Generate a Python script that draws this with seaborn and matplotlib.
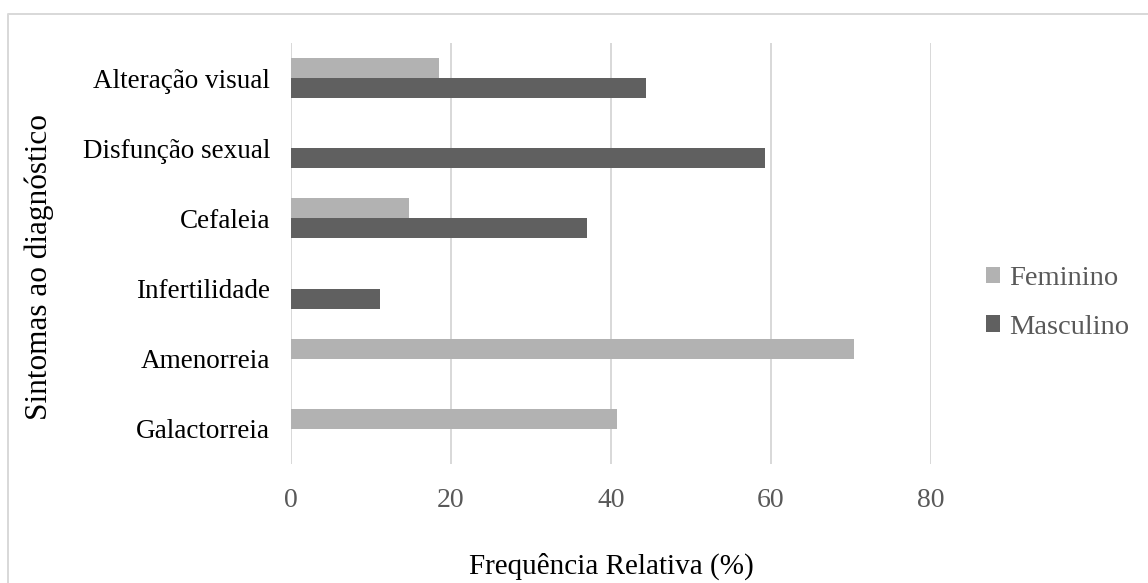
import matplotlib
matplotlib.use("Agg")
import matplotlib.pyplot as plt
from matplotlib.patches import Patch
from matplotlib.lines import Line2D
import seaborn as sns
import pandas as pd

# Symptom frequencies at diagnosis, by sex (%)
sintomas = ["Alteração visual", "Disfunção sexual", "Cefaleia",
            "Infertilidade", "Amenorreia", "Galactorreia"]
feminino = [18.5, 0.0, 14.8, 0.0, 70.4, 40.7]
masculino = [44.4, 59.3, 37.0, 11.1, 0.0, 0.0]
sexos = ["Feminino", "Masculino"]
cores = ["#B2B2B2", "#606060"]
ticks_x = [0, 20, 40, 60, 80]

df = pd.DataFrame({
    "Sintoma": sintomas * 2,
    "Sexo": [sexos[0]] * len(sintomas) + [sexos[1]] * len(sintomas),
    "Valor": feminino + masculino,
})

sns.set_theme(style="white")
plt.rcParams["font.family"] = ["Liberation Serif", "DejaVu Serif"]

W, H = 1148, 583
fig = plt.figure(figsize=(W / 100, H / 100), dpi=100)
ax = fig.add_axes([291 / W, 1 - 464 / H, 640 / W, 421 / H])

sns.barplot(data=df, x="Valor", y="Sintoma", hue="Sexo", order=sintomas,
            hue_order=sexos, palette=cores, orient="h", width=0.57,
            dodge=True, linewidth=0, saturation=1, legend=False, ax=ax)

ax.set_xlim(0, 80)
ax.set_ylim(len(sintomas) - 0.5, -0.5)
ax.set_xticks(ticks_x)
ax.set_xticklabels([str(t) for t in ticks_x])
for s in ax.spines.values():
    s.set_visible(False)
ax.set_axisbelow(True)
ax.grid(False)
for t in ticks_x:
    ax.axvline(t, color="#D9D9D9", lw=1.44, zorder=0)

ax.set_xlabel("")
ax.set_ylabel("")
ax.tick_params(axis="x", length=0, pad=17, labelsize=20, labelcolor="#595959")
ax.tick_params(axis="y", length=0, pad=15, labelsize=19.5, labelcolor="#000000")

fig.text(611 / W, 1 - 566 / H, "Frequência Relativa (%)", ha="center",
         va="center", fontsize=21, color="#000000")
fig.text(39 / W, 1 - 267 / H, "Sintomas ao diagnóstico", ha="center",
         va="center", rotation=90, fontsize=22.5, color="#000000")

handles = [Patch(facecolor=c, edgecolor="none") for c in cores]
leg = fig.legend(handles, sexos, loc="center left",
                 bbox_to_anchor=(986 / W, 1 - 303 / H), frameon=False,
                 fontsize=20.5, handlelength=0.5, handleheight=0.5,
                 handletextpad=0.3, labelspacing=0.82, borderpad=0,
                 borderaxespad=0)
for txt in leg.get_texts():
    txt.set_color("#595959")

# chart frame
fig.add_artist(Line2D([8 / W, 8 / W, 1.0], [0.0, 1 - 14 / H, 1 - 14 / H],
                      transform=fig.transFigure, color="#D9D9D9", lw=1.44))

fig.savefig("out.png", dpi=100, facecolor="white")
